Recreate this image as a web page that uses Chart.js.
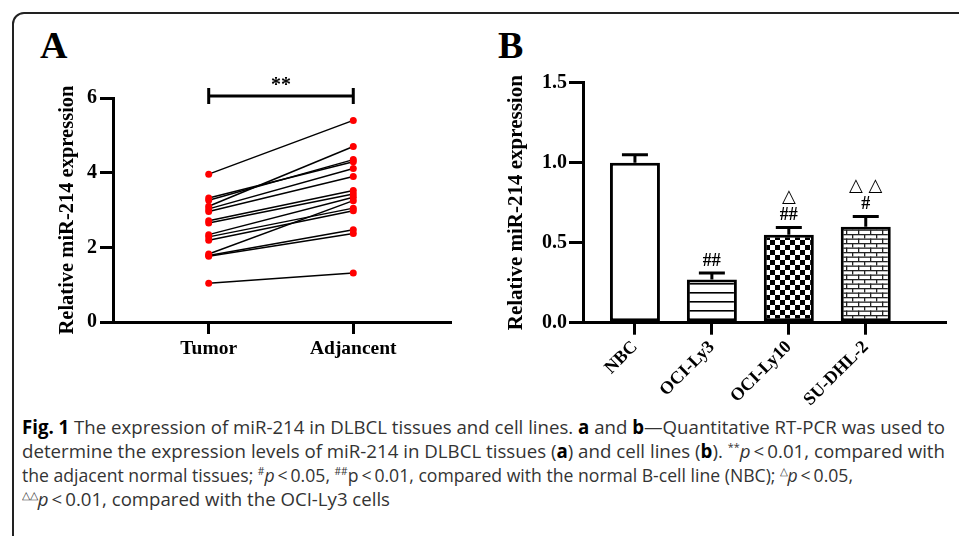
<!DOCTYPE html>
<html>
<head>
<meta charset="utf-8">
<script src="https://cdn.jsdelivr.net/npm/chart.js@4.4.0/dist/chart.umd.min.js"></script>
<style>
  html, body { margin: 0; padding: 0; background: #fff; width: 959px; height: 536px; overflow: hidden; }
  #frame { position: absolute; left: 12px; top: 12px; width: 1000px; height: 600px; border: 2px solid #222; border-radius: 12px; box-sizing: border-box; }
  .panel-label { position: absolute; font-family: "Liberation Serif", "Times New Roman", serif; font-weight: bold; font-size: 38px; line-height: 38px; color: #000; }
  #wrapA { position: absolute; left: 0; top: 0; width: 480px; height: 380px; }
  #wrapB { position: absolute; left: 480px; top: 0; width: 479px; height: 410px; }
  #caption { position: absolute; left: 22px; top: 415px; font-family: "Open Sans", "Noto Sans", sans-serif; font-size: 19px; line-height: 24px; color: #333; }
  #caption .line { white-space: nowrap; height: 24px; }
  #caption .line span { display: inline-block; transform-origin: 0 50%; }
  #caption b { color: #000; }
  #caption sup { font-size: 11px; line-height: 0; vertical-align: 7px; }
</style>
</head>
<body>
<div id="frame"></div>
<div class="panel-label" style="left:40px; top:26px;">A</div>
<div class="panel-label" style="left:498px; top:26px;">B</div>
<div id="wrapA"><canvas id="chartA" width="480" height="380"></canvas></div>
<div id="wrapB"><canvas id="chartB" width="479" height="410"></canvas></div>
<div id="caption">
  <div class="line"><span id="l1"><b>Fig. 1</b> The expression of miR-214 in DLBCL tissues and cell lines. <b>a</b> and <b>b</b>—Quantitative RT-PCR was used to</span></div>
  <div class="line"><span id="l2">determine the expression levels of miR-214 in DLBCL tissues (<b>a</b>) and cell lines (<b>b</b>). <sup>**</sup><i>p</i>&thinsp;&lt;&thinsp;0.01, compared with</span></div>
  <div class="line"><span id="l3">the adjacent normal tissues; <sup>#</sup><i>p</i>&thinsp;&lt;&thinsp;0.05, <sup>##</sup>p&thinsp;&lt;&thinsp;0.01, compared with the normal B-cell line (NBC); <sup>△</sup><i>p</i>&thinsp;&lt;&thinsp;0.05,</span></div>
  <div class="line"><span id="l4"><sup>△△</sup><i>p</i>&thinsp;&lt;&thinsp;0.01, compared with the OCI-Ly3 cells</span></div>
</div>
<script>
'use strict';

// panel A: paired tumor / adjacent values
var pairLabels = ['Tumor', 'Adjancent'];
var tumor = [3.96, 3.32, 3.26, 3.10, 3.03, 2.96, 2.71, 2.65, 2.34, 2.28, 2.19, 1.82, 1.78, 1.76, 1.04];
var adjacent = [5.40, 4.29, 4.35, 4.70, 4.11, 3.90, 3.52, 3.43, 3.34, 3.05, 2.98, 3.25, 2.47, 2.37, 1.31];
var yTicksA = [0, 2, 4, 6];
var sigA = '**';

// panel B: cell lines
var cellLines = ['NBC', 'OCI-Ly3', 'OCI-Ly10', 'SU-DHL-2'];
var expr = [1.00, 0.27, 0.55, 0.60];
var sem = [0.05, 0.04, 0.045, 0.063];
var hashMarks = ['', '##', '##', '#'];
var triMarks = ['', '', '△', '△ △'];
var yTicksB = [0, 0.5, 1.0, 1.5];

var serif = '"Liberation Serif", "Times New Roman", serif';

var bracket = {
  id: 'bracket',
  afterDraw: function (chart) {
    var ctx = chart.ctx;
    var xs = chart.scales.x;
    var ys = chart.scales.y;
    var x1 = xs.getPixelForValue(1);
    var x2 = xs.getPixelForValue(2);
    var y = ys.getPixelForValue(yTicksA[yTicksA.length - 1]) - 2;
    ctx.save();
    ctx.strokeStyle = '#000';
    ctx.lineWidth = 3;
    ctx.beginPath();
    ctx.moveTo(x1, y); ctx.lineTo(x2, y);
    ctx.moveTo(x1, y - 8); ctx.lineTo(x1, y + 8);
    ctx.moveTo(x2, y - 8); ctx.lineTo(x2, y + 8);
    ctx.stroke();
    ctx.fillStyle = '#000';
    ctx.font = 'bold 20px ' + serif;
    ctx.textAlign = 'center';
    ctx.textBaseline = 'middle';
    ctx.fillText(sigA, (x1 + x2) / 2, y - 10);
    ctx.restore();
  }
};

var errorBars = {
  id: 'errorBars',
  afterDatasetsDraw: function (chart) {
    var ctx = chart.ctx;
    var xs = chart.scales.x;
    var ys = chart.scales.y;
    ctx.save();
    ctx.strokeStyle = '#000';
    ctx.fillStyle = '#000';
    ctx.lineWidth = 3;
    ctx.textAlign = 'center';
    ctx.textBaseline = 'middle';
    for (var i = 0; i < expr.length; i++) {
      var x = xs.getPixelForValue(i + 1);
      var y0 = ys.getPixelForValue(expr[i]);
      var y1 = ys.getPixelForValue(expr[i] + sem[i]);
      ctx.beginPath();
      ctx.moveTo(x, y0); ctx.lineTo(x, y1);
      ctx.moveTo(x - 13, y1); ctx.lineTo(x + 13, y1);
      ctx.stroke();
      ctx.font = 'bold 18px ' + serif;
      ctx.fillText(hashMarks[i], x, y1 - 12);
      ctx.font = '18px "DejaVu Sans", sans-serif';
      ctx.fillText(triMarks[i], x, y1 - 30);
    }
    ctx.restore();
  }
};

function makePattern(w, h, draw) {
  var c = document.createElement('canvas');
  c.width = w;
  c.height = h;
  var g = c.getContext('2d');
  g.fillStyle = '#fff';
  g.fillRect(0, 0, w, h);
  g.fillStyle = '#000';
  draw(g);
  return g.createPattern(c, 'repeat');
}

var fillLines = makePattern(8, 9, function (g) { g.fillRect(0, 4, 8, 1.6); });
var fillChecker = makePattern(10, 10, function (g) { g.fillRect(0, 0, 5, 5); g.fillRect(5, 5, 5, 5); });
var fillBrick = makePattern(12, 9, function (g) {
  g.fillStyle = '#222';
  g.fillRect(0, 0, 12, 1.3);
  g.fillRect(0, 4.5, 12, 1.3);
  g.fillRect(0, 0, 1.3, 4.5);
  g.fillRect(6, 4.5, 1.3, 4.5);
});

// panel A datasets: points first (drawn on top), then the joining lines
var pairSets = [{
  data: tumor.map(function (v) { return {x: 1, y: v}; }),
  order: 0, pointRadius: 3.5, pointBackgroundColor: '#f00', pointBorderWidth: 0, showLine: false
}, {
  data: adjacent.map(function (v) { return {x: 2, y: v}; }),
  order: 0, pointRadius: 3.5, pointBackgroundColor: '#f00', pointBorderWidth: 0, showLine: false
}];
for (var i = 0; i < tumor.length; i++) {
  pairSets.push({
    data: [{x: 1, y: tumor[i]}, {x: 2, y: adjacent[i]}],
    order: 1, showLine: true, borderColor: '#000', borderWidth: 1.5, pointRadius: 0
  });
}

new Chart(document.getElementById('chartA'), {
  type: 'scatter',
  data: { datasets: pairSets },
  options: {
    responsive: false,
    animation: false,
    layout: { padding: { left: 0, right: 30, top: 98, bottom: 0 } },
    plugins: { legend: { display: false }, tooltip: { enabled: false } },
    scales: {
      x: {
        type: 'linear', min: 0.338, max: 2.669, offset: false,
        afterFit: function (s) { s.height = 58; },
        afterBuildTicks: function (s) { s.ticks = pairLabels.map(function (l, i) { return {value: i + 1}; }); },
        ticks: {
          callback: function (v, i) { return pairLabels[i]; },
          font: { family: serif, weight: 'bold', size: 19.5 }, color: '#000', padding: 3, maxRotation: 0
        },
        grid: { drawOnChartArea: false, tickLength: 12, lineWidth: 3, color: '#000' },
        border: { color: '#000', width: 3 }
      },
      y: {
        min: 0, max: 6,
        afterFit: function (s) { s.width = 113; },
        afterBuildTicks: function (s) { s.ticks = yTicksA.map(function (v) { return {value: v}; }); },
        ticks: { font: { family: serif, weight: 'bold', size: 20 }, color: '#000', padding: 3 },
        grid: { drawOnChartArea: false, tickLength: 13, lineWidth: 3, color: '#000' },
        border: { color: '#000', width: 3 },
        title: {
          display: true, text: 'Relative miR-214 expression', color: '#000',
          font: { family: serif, weight: 'bold', size: 20.5 }, padding: { top: 55, bottom: 0 }
        }
      }
    }
  },
  plugins: [bracket]
});

new Chart(document.getElementById('chartB'), {
  type: 'bar',
  data: {
    datasets: [{
      data: expr.map(function (v, i) { return {x: i + 1, y: v}; }),
      backgroundColor: ['#fff', fillLines, fillChecker, fillBrick],
      borderColor: '#000',
      borderWidth: 3,
      borderSkipped: false,
      barPercentage: 0.65,
      categoryPercentage: 1
    }]
  },
  options: {
    responsive: false,
    animation: false,
    layout: { padding: { left: 0, right: 14, top: 82.7, bottom: 0 } },
    plugins: { legend: { display: false }, tooltip: { enabled: false } },
    scales: {
      x: {
        type: 'linear', min: 0.325, max: 5.03, offset: false,
        afterFit: function (s) { s.height = 410 - 322.7; },
        afterBuildTicks: function (s) { s.ticks = cellLines.map(function (l, i) { return {value: i + 1}; }); },
        ticks: {
          callback: function (v, i) { return cellLines[i]; },
          font: { family: serif, weight: 'bold', size: 18 }, color: '#000', padding: 2,
          minRotation: 45, maxRotation: 45
        },
        grid: { drawOnChartArea: false, offset: false, tickLength: 12, lineWidth: 3, color: '#000' },
        border: { color: '#000', width: 3 }
      },
      y: {
        min: 0, max: 1.5,
        afterFit: function (s) { s.width = 103; },
        afterBuildTicks: function (s) { s.ticks = yTicksB.map(function (v) { return {value: v}; }); },
        ticks: {
          callback: function (v) { return v.toFixed(1); },
          font: { family: serif, weight: 'bold', size: 20 }, color: '#000', padding: 2
        },
        grid: { drawOnChartArea: false, tickLength: 14, lineWidth: 3, color: '#000' },
        border: { color: '#000', width: 3 },
        title: {
          display: true, text: 'Relative miR-214 expression', color: '#000',
          font: { family: serif, weight: 'bold', size: 21 }, padding: { top: 24, bottom: 0 }
        }
      }
    }
  },
  plugins: [errorBars]
});

// squeeze each caption line to the width it has in the reference
var lineWidths = { l1: 923, l2: 923, l3: 831, l4: 368 };
Object.keys(lineWidths).forEach(function (id) {
  var el = document.getElementById(id);
  var w = el.getBoundingClientRect().width;
  el.style.transform = 'scaleX(' + (lineWidths[id] / w) + ')';
});
</script>
</body>
</html>
